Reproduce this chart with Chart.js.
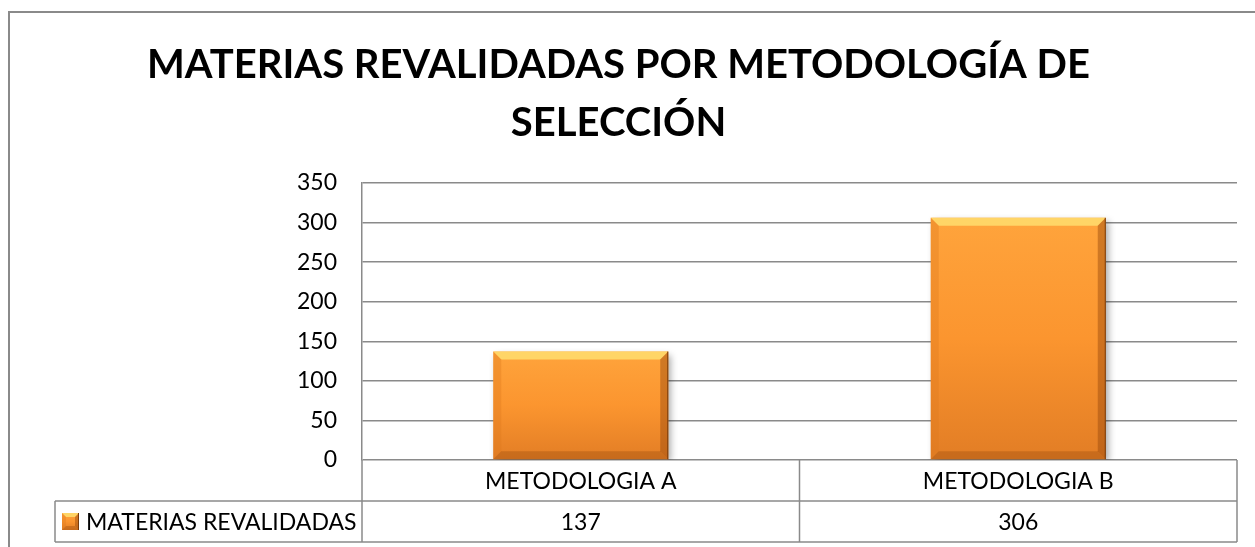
<!DOCTYPE html>
<html>
<head>
<meta charset="utf-8">
<script src="https://cdn.jsdelivr.net/npm/chart.js@4"></script>
<style>
    html, body { margin: 0; padding: 0; background: #fff; }
    #wrap { width: 1255px; height: 547px; }
</style>
</head>
<body>
<div id="wrap"><canvas id="chart" width="1255" height="547"></canvas></div>
<script>
const titleLines = ["MATERIAS REVALIDADAS POR METODOLOGÍA DE", "SELECCIÓN"];
const categories = ["METODOLOGIA A", "METODOLOGIA B"];
const seriesName = "MATERIAS REVALIDADAS";
const seriesValues = [137, 306];
const yTickValues = [0, 50, 100, 150, 200, 250, 300, 350];

const fontFamily = "Lato, 'Open Sans', sans-serif";
const lineGray = "#8a8a8a";
const rowHeight = 41;
const legendLeft = 55;

Chart.defaults.font.family = fontFamily;
Chart.defaults.color = "#000";

// vertical orange gradient for a bar between top and bottom pixel
function orangeGradient(ctx, top, bottom) {
    const g = ctx.createLinearGradient(0, top, 0, bottom);
    g.addColorStop(0, "#ffa43c");
    g.addColorStop(0.5, "#fb952f");
    g.addColorStop(1, "#e27d25");
    return g;
}

function drawBevel(ctx, left, top, right, bottom, b) {
    // top highlight
    ctx.fillStyle = "rgba(255, 222, 110, 0.85)";
    ctx.beginPath();
    ctx.moveTo(left, top); ctx.lineTo(right, top);
    ctx.lineTo(right - b, top + b); ctx.lineTo(left + b, top + b);
    ctx.closePath(); ctx.fill();
    // left side
    ctx.fillStyle = "rgba(220, 120, 30, 0.35)";
    ctx.beginPath();
    ctx.moveTo(left, top); ctx.lineTo(left + b, top + b);
    ctx.lineTo(left + b, bottom - b); ctx.lineTo(left, bottom);
    ctx.closePath(); ctx.fill();
    // right side
    ctx.fillStyle = "rgba(150, 70, 10, 0.45)";
    ctx.beginPath();
    ctx.moveTo(right, top); ctx.lineTo(right - b, top + b);
    ctx.lineTo(right - b, bottom - b); ctx.lineTo(right, bottom);
    ctx.closePath(); ctx.fill();
    // bottom
    ctx.fillStyle = "rgba(160, 80, 15, 0.4)";
    ctx.beginPath();
    ctx.moveTo(left, bottom); ctx.lineTo(right, bottom);
    ctx.lineTo(right - b, bottom - b); ctx.lineTo(left + b, bottom - b);
    ctx.closePath(); ctx.fill();
    // dark right edge
    ctx.strokeStyle = "#7a3c0c";
    ctx.lineWidth = 1;
    ctx.beginPath();
    ctx.moveTo(right - 0.5, top); ctx.lineTo(right - 0.5, bottom);
    ctx.stroke();
}

const frameAndTable = {
    id: "frameAndTable",
    beforeDraw(chart) {
        const ctx = chart.ctx;
        ctx.save();
        ctx.strokeStyle = lineGray;
        ctx.lineWidth = 2;
        ctx.strokeRect(9, 12, 1400, 700);
        ctx.restore();
    },
    beforeDatasetDraw(chart) {
        const ctx = chart.ctx;
        ctx.save();
        ctx.shadowColor = "rgba(0, 0, 0, 0.35)";
        ctx.shadowBlur = 7;
        ctx.shadowOffsetX = 3;
        ctx.shadowOffsetY = 3;
    },
    afterDatasetDraw(chart) {
        chart.ctx.restore();
    },
    afterDatasetsDraw(chart) {
        const ctx = chart.ctx;
        const meta = chart.getDatasetMeta(0);
        ctx.save();
        meta.data.forEach(bar => {
            const p = bar.getProps(["x", "y", "base", "width"], true);
            drawBevel(ctx, p.x - p.width / 2, p.y, p.x + p.width / 2, p.base, 8);
        });
        ctx.restore();
    },
    afterDraw(chart) {
        const ctx = chart.ctx;
        const area = chart.chartArea;
        const x = chart.scales.x;
        const half = (x.getPixelForValue(1) - x.getPixelForValue(0)) / 2;
        const r1 = area.bottom;
        const r2 = r1 + rowHeight;
        const r3 = r2 + rowHeight;

        ctx.save();
        ctx.strokeStyle = lineGray;
        ctx.lineWidth = 1.5;
        ctx.beginPath();
        ctx.moveTo(legendLeft, r2); ctx.lineTo(area.right, r2);
        ctx.moveTo(legendLeft, r3); ctx.lineTo(area.right, r3);
        ctx.moveTo(legendLeft, r2); ctx.lineTo(legendLeft, r3);
        categories.forEach((c, i) => {
            const cx = x.getPixelForValue(i);
            ctx.moveTo(cx - half, r1); ctx.lineTo(cx - half, r3);
            if (i === categories.length - 1) {
                ctx.moveTo(cx + half, r1); ctx.lineTo(cx + half, r3);
            }
        });
        ctx.stroke();

        ctx.fillStyle = "#000";
        ctx.font = "23px " + fontFamily;
        ctx.textAlign = "center";
        ctx.textBaseline = "middle";
        categories.forEach((c, i) => {
            const cx = x.getPixelForValue(i);
            ctx.fillText(c, cx, r1 + rowHeight / 2 + 1);
            ctx.fillText(String(chart.data.datasets[0].data[i]), cx, r2 + rowHeight / 2 + 1);
        });

        // legend key inside the table
        const kx = 62, ky = r2 + 12, ks = 17;
        ctx.fillStyle = orangeGradient(ctx, ky, ky + ks);
        ctx.fillRect(kx, ky, ks, ks);
        drawBevel(ctx, kx, ky, kx + ks, ky + ks, 4);
        ctx.fillStyle = "#000";
        ctx.textAlign = "left";
        ctx.fillText(chart.data.datasets[0].label, 86, r2 + rowHeight / 2 + 1);
        ctx.restore();
    }
};

const ctx = document.getElementById("chart").getContext("2d");

new Chart(ctx, {
    type: "bar",
    data: {
        labels: categories,
        datasets: [{
            label: seriesName,
            data: seriesValues,
            backgroundColor: function (context) {
                const chart = context.chart;
                const yScale = chart.scales.y;
                if (!yScale || !context.parsed) return "#fb952f";
                const top = yScale.getPixelForValue(context.parsed.y);
                const base = yScale.getPixelForValue(0);
                if (!isFinite(top) || !isFinite(base) || top === base) return "#fb952f";
                return orangeGradient(chart.ctx, top, base);
            },
            borderWidth: 0,
            barPercentage: 1,
            categoryPercentage: 0.4
        }]
    },
    options: {
        responsive: false,
        animation: false,
        layout: { padding: { left: 0, right: 18, top: 0, bottom: 0 } },
        plugins: {
            legend: { display: false },
            tooltip: { enabled: false },
            title: {
                display: true,
                text: titleLines,
                color: "#000",
                font: { size: 40, weight: "bold", lineHeight: 1.45 },
                padding: { top: 36, bottom: 31 }
            }
        },
        scales: {
            x: {
                grid: { display: false },
                border: { display: false },
                ticks: { display: false },
                afterFit: scale => { scale.height = 87; }
            },
            y: {
                min: 0,
                max: 350,
                afterBuildTicks: scale => {
                    scale.ticks = yTickValues.map(v => ({ value: v }));
                },
                afterFit: scale => { scale.width = 362; },
                grid: { color: lineGray, lineWidth: 1.5, drawTicks: false },
                border: { display: true, color: lineGray, width: 1.5 },
                ticks: { padding: 25, color: "#000", font: { size: 23 } }
            }
        }
    },
    plugins: [frameAndTable]
});
</script>
</body>
</html>
